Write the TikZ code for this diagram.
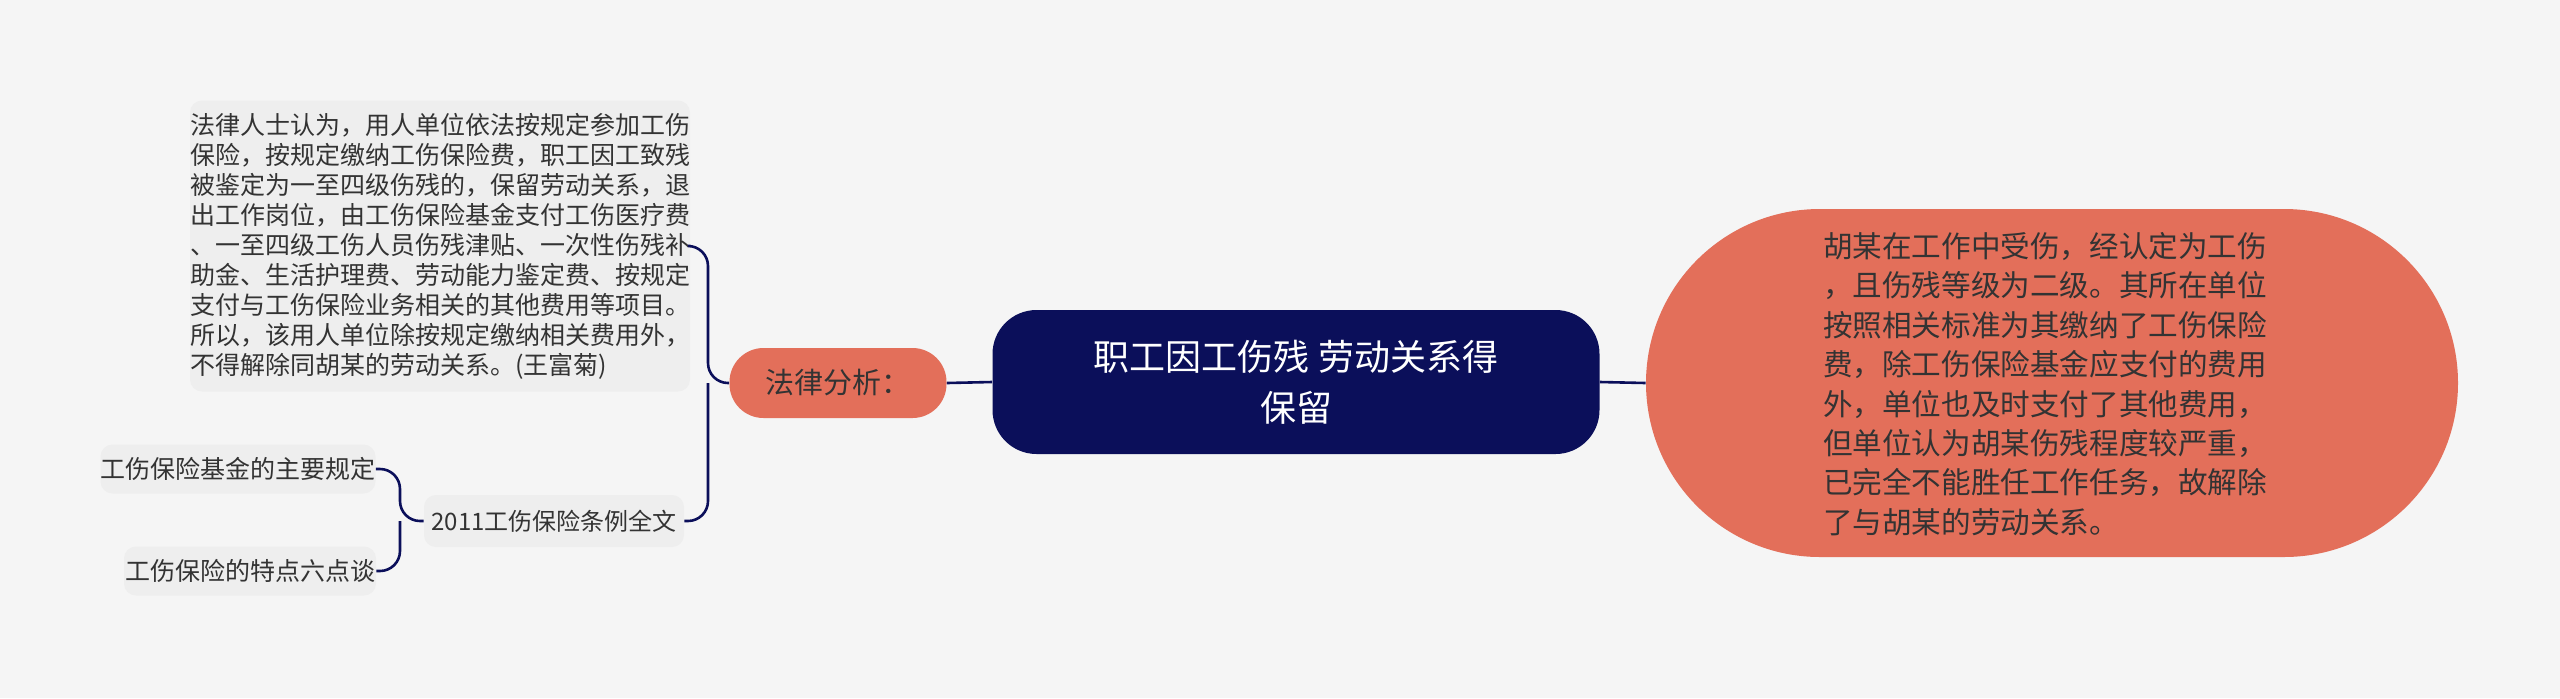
\documentclass[tikz,border=0pt]{standalone}
\usepackage{fontspec}
\setmainfont{Noto Sans CJK SC}
\definecolor{navy}{HTML}{0B0F5A}
\definecolor{coral}{HTML}{E36F5A}
\definecolor{boxg}{HTML}{EEEEEE}
\definecolor{bg}{HTML}{F5F5F5}
\definecolor{txt}{HTML}{333333}
\begin{document}
\begin{tikzpicture}[x=0.5pt,y=-0.5pt,
  leaf/.style={fill=boxg,rounded corners=6pt,text=txt,inner sep=0pt,align=left},
  conn/.style={draw=navy,line width=1.3pt,rounded corners=10pt}]
\fill[bg] (0,0) rectangle (2560,698);
\useasboundingbox (0,0) rectangle (2560,698);
\node[fill=navy,rounded corners=22pt,minimum width=303.5pt,minimum height=72pt,text=white,align=center,font=\fontsize{18pt}{25.5pt}\selectfont] (c) at (1296,382) {职工因工伤残 劳动关系得\\保留};
\node[fill=coral,rounded corners=87pt,minimum width=406pt,minimum height=174pt,inner sep=0pt] (r) at (2052,383) {};
\node[anchor=west,text=txt,align=left,font=\fontsize{14.8pt}{19.7pt}\selectfont] (rt) at (1816,384) {胡某在工作中受伤，经认定为工伤\\，且伤残等级为二级。其所在单位\\按照相关标准为其缴纳了工伤保险\\费，除工伤保险基金应支付的费用\\外，单位也及时支付了其他费用，\\但单位认为胡某伤残程度较严重，\\已完全不能胜任工作任务，故解除\\了与胡某的劳动关系。};
\node[fill=coral,rounded corners=17pt,minimum width=108.5pt,minimum height=35pt,text=txt,font=\fontsize{14.5pt}{18pt}\selectfont] (la) at (838,383) {法律分析：};
\node[leaf,minimum width=246.5pt,minimum height=145.5pt,font=\fontsize{12.5pt}{15pt}\selectfont] (big) at (440,246) {法律人士认为，用人单位依法按规定参加工伤\\保险，按规定缴纳工伤保险费，职工因工致残\\被鉴定为一至四级伤残的，保留劳动关系，退\\出工作岗位，由工伤保险基金支付工伤医疗费\\、一至四级工伤人员伤残津贴、一次性伤残补\\助金、生活护理费、劳动能力鉴定费、按规定\\支付与工伤保险业务相关的其他费用等项目。\\所以，该用人单位除按规定缴纳相关费用外，\\不得解除同胡某的劳动关系。(王富菊)};
\node[leaf,minimum width=130pt,minimum height=26pt,align=center,font=\fontsize{12pt}{14pt}\selectfont] (law) at (554,521) {2011工伤保险条例全文};
\node[leaf,minimum width=137.5pt,minimum height=24.5pt,align=center,font=\fontsize{12.5pt}{14pt}\selectfont] (a1) at (238,469) {工伤保险基金的主要规定};
\node[leaf,minimum width=126pt,minimum height=24.5pt,align=center,font=\fontsize{12.5pt}{14pt}\selectfont] (a2) at (250,571) {工伤保险的特点六点谈};
\draw[conn] (c.east) -- (r.west);
\draw[conn] (la.east) -- (c.west);
\draw[conn] (la.west) -- (708,383) |- (big.east);
\draw[conn] (708,383) |- (law.east);
\draw[conn] (law.west) -- (400,521) |- (a1.east);
\draw[conn] (400,521) |- (a2.east);
\end{tikzpicture}
\end{document}
